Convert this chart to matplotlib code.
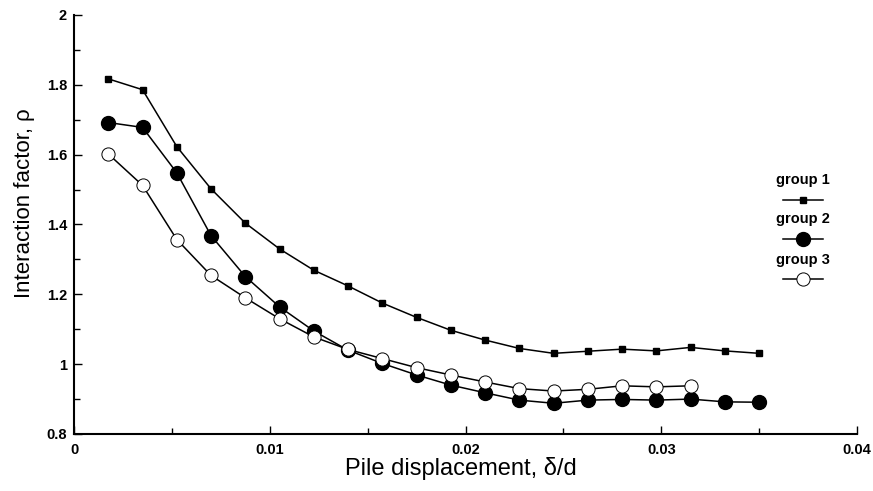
import matplotlib
matplotlib.use("Agg")
import matplotlib.pyplot as plt
from matplotlib.lines import Line2D
from matplotlib.ticker import MultipleLocator, FixedLocator

plt.rcParams['font.family'] = ['Liberation Sans', 'DejaVu Sans']

# Pile displacement delta/d
x_g12 = [0.00175, 0.0035, 0.00525, 0.007, 0.00875, 0.0105, 0.01225, 0.014, 0.01575, 0.0175,
         0.01925, 0.021, 0.02275, 0.0245, 0.02625, 0.028, 0.02975, 0.0315, 0.03325, 0.035]
x_g3 = x_g12[:18]

group1 = [1.817, 1.786, 1.623, 1.502, 1.404, 1.330, 1.269, 1.224, 1.175, 1.134,
          1.097, 1.069, 1.045, 1.031, 1.037, 1.043, 1.038, 1.048, 1.038, 1.031]
group2 = [1.692, 1.678, 1.548, 1.368, 1.251, 1.164, 1.095, 1.040, 1.002, 0.969,
          0.940, 0.918, 0.897, 0.888, 0.897, 0.899, 0.897, 0.900, 0.892, 0.891]
group3 = [1.602, 1.512, 1.357, 1.254, 1.190, 1.130, 1.078, 1.042, 1.016, 0.990,
          0.969, 0.949, 0.930, 0.923, 0.928, 0.938, 0.935, 0.938]

labels = ["group 1", "group 2", "group 3"]
x_ticks = [0, 0.01, 0.02, 0.03, 0.04]
x_ticklabels = ["0", "0.01", "0.02", "0.03", "0.04"]
y_ticks = [0.8, 1.0, 1.2, 1.4, 1.6, 1.8, 2.0]
y_ticklabels = ["0.8", "1", "1.2", "1.4", "1.6", "1.8", "2"]

fig = plt.figure(figsize=(8.73, 4.91), dpi=100)
ax = fig.add_axes([0.0848, 0.1161, 0.8969, 0.8534])

styles = [
    dict(marker='s', markersize=4.8, color='black', markerfacecolor='black'),
    dict(marker='o', markersize=10, color='black', markerfacecolor='black'),
    dict(marker='o', markersize=9.5, color='black', markerfacecolor='white', markeredgewidth=0.7),
]
lw = 1.1
ax.plot(x_g12, group1, lw=lw, **styles[0], zorder=3)
ax.plot(x_g12, group2, lw=lw, **styles[1], zorder=3)
ax.plot(x_g3, group3, lw=lw, **styles[2], zorder=4)

ax.set_xlim(0, 0.04)
ax.set_ylim(0.8, 2.0)
ax.xaxis.set_major_locator(FixedLocator(x_ticks))
ax.set_xticklabels(x_ticklabels, fontweight='bold')
ax.xaxis.set_minor_locator(MultipleLocator(0.005))
ax.yaxis.set_major_locator(FixedLocator(y_ticks))
ax.set_yticklabels(y_ticklabels, fontweight='bold')
ax.yaxis.set_minor_locator(MultipleLocator(0.1))
ax.tick_params(which='both', direction='in', labelsize=10.5, width=1.0)
ax.tick_params(which='major', length=6)
ax.tick_params(which='minor', length=4)
ax.tick_params(axis='x', pad=6.5)
ax.tick_params(axis='y', pad=5)

ax.spines['top'].set_visible(False)
ax.spines['right'].set_visible(False)
ax.spines['left'].set_linewidth(1.5)
ax.spines['bottom'].set_linewidth(1.5)

ax.set_xlabel("Pile displacement, δ/d", fontsize=17)
ax.xaxis.set_label_coords(0.4936, -0.055)
ax.set_ylabel("Interaction factor, ρ", fontsize=16)
ax.yaxis.set_label_coords(-0.050, 0.551)

# Legend: text label above each line sample
leg_x = 0.931
text_y = [0.606, 0.513, 0.415]
line_y = [0.558, 0.465, 0.370]
for lab, sty, ty, ly in zip(labels, styles, text_y, line_y):
    ax.text(leg_x, ty, lab, transform=ax.transAxes, ha='center', va='center',
            fontsize=10.5, fontweight='bold')
    ln = Line2D([leg_x - 0.0255, leg_x, leg_x + 0.0255], [ly] * 3, transform=ax.transAxes,
                lw=lw, markevery=[1], clip_on=False, **sty)
    ax.add_line(ln)

fig.savefig("out.png", dpi=100)
